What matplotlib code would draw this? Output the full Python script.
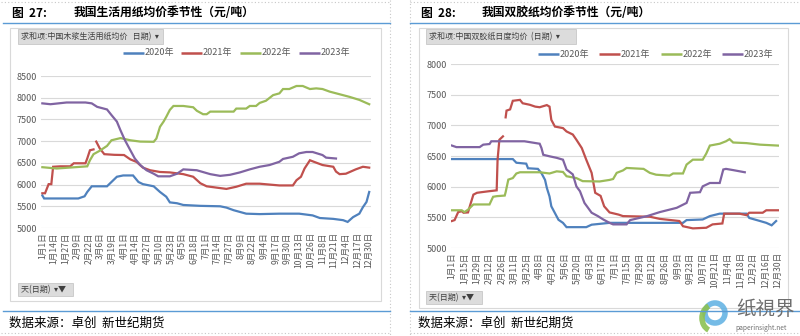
import numpy as np
import matplotlib
matplotlib.use("Agg")
import matplotlib.pyplot as plt
from matplotlib.patches import Rectangle, Circle, Arc

plt.rcParams['font.family'] = ['Noto Sans CJK SC', 'DejaVu Sans']

nan = np.nan

# ---- data: left chart (生活用纸) ----
left_ticks = ["1月1日", "1月14日", "1月27日", "2月9日", "2月22日", "3月6日", "3月19日", "4月1日",
              "4月14日", "4月27日", "5月10日", "5月23日", "6月5日", "6月18日", "7月1日", "7月14日",
              "7月27日", "8月9日", "8月22日", "9月4日", "9月17日", "9月30日", "10月13日", "10月26日",
              "11月8日", "11月21日", "12月4日", "12月17日", "12月30日"]

l2020_d = [0, 2, 40, 47, 50, 55, 72, 77, 83, 90, 101, 107, 112, 124, 131, 138, 142, 150, 157, 176, 198,
           205, 213, 227, 242, 264, 286, 301, 309, 324, 335, 340, 346, 353, 357, 361, 364]
l2020_v = [5750, 5680, 5680, 5730, 5830, 5960, 5960, 6060, 6180, 6210, 6210, 6060, 6010, 5960, 5830, 5720,
           5590, 5570, 5530, 5510, 5500, 5470, 5410, 5330, 5320, 5330, 5330, 5290, 5230, 5210, 5180, 5140,
           5250, 5330, 5480, 5600, 5830]

l2021_d = [0, 3, 7, 10, 12, 20, 31, 35, 48, 50, 53, 57, 58, 60, 64, 69, 80, 91, 98, 105, 112, 120, 131,
           142, 157, 168, 176, 183, 194, 205, 216, 227, 242, 264, 279, 283, 288, 292, 298, 303, 312, 324,
           327, 331, 338, 349, 357, 364]
l2021_v = [5800, 5800, 6010, 6010, 6410, 6420, 6420, 6490, 6490, 6600, 6790, 6810, nan, 6990, 6830, 6700,
           6685, 6680, 6580, 6520, 6390, 6330, 6290, 6280, 6240, 6180, 6030, 5960, 5930, 5900, 5950, 6020,
           6020, 5980, 5980, 6100, 6180, 6370, 6560, 6520, 6450, 6410, 6300, 6240, 6250, 6350, 6410, 6390]

l2022_d = [0, 16, 50, 53, 57, 64, 72, 77, 87, 98, 109, 124, 127, 131, 135, 138, 142, 146, 157, 168, 172,
           179, 183, 187, 213, 216, 227, 231, 238, 242, 249, 257, 264, 268, 275, 283, 290, 298, 305, 312,
           320, 331, 342, 353, 364]
l2022_v = [6400, 6370, 6420, 6560, 6700, 6780, 6890, 7020, 7070, 7020, 6990, 6985, 7060, 7330, 7450, 7560,
           7720, 7810, 7810, 7780, 7700, 7620, 7620, 7680, 7680, 7750, 7750, 7810, 7810, 7880, 7930, 8060,
           8100, 8200, 8200, 8270, 8270, 8200, 8215, 8200, 8140, 8080, 8020, 7950, 7850]

l2023_d = [0, 9, 27, 48, 55, 61, 72, 77, 83, 87, 92, 98, 103, 109, 116, 124, 129, 142, 150, 157, 172,
           187, 198, 209, 220, 231, 242, 253, 264, 268, 279, 286, 294, 301, 312, 316, 327]
l2023_v = [7870, 7850, 7890, 7890, 7870, 7790, 7730, 7600, 7450, 7250, 7020, 6790, 6600, 6450, 6330, 6250,
           6190, 6190, 6250, 6350, 6330, 6240, 6200, 6225, 6280, 6350, 6410, 6450, 6525, 6590, 6640, 6720,
           6750, 6750, 6680, 6620, 6600]

# ---- data: right chart (双胶纸) ----
right_ticks = ["1月1日", "1月15日", "1月29日", "2月12日", "2月26日", "3月11日", "3月25日", "4月8日",
               "4月22日", "5月6日", "5月20日", "6月3日", "6月17日", "7月1日", "7月15日", "7月29日",
               "8月12日", "8月26日", "9月9日", "9月23日", "10月7日", "10月21日", "11月4日", "11月18日",
               "12月2日", "12月16日", "12月30日"]

r2020_d = [0, 68, 72, 83, 85, 96, 100, 104, 106, 109, 111, 115, 119, 124, 128, 150, 156, 176, 258, 262,
           280, 288, 299, 329, 332, 344, 351, 357, 362]
r2020_v = [6450, 6450, 6390, 6375, 6300, 6290, 6220, 6110, 5980, 5840, 5680, 5570, 5460, 5410, 5340, 5340,
           5380, 5410, 5410, 5455, 5465, 5520, 5560, 5560, 5490, 5440, 5410, 5370, 5440]

r2021_d = [0, 3, 7, 11, 13, 18, 20, 24, 28, 33, 41, 50, 51, 53, 57, 58, 60, 61, 65, 68, 76, 79, 87, 93,
           98, 106, 109, 111, 115, 124, 128, 135, 139, 145, 150, 156, 160, 166, 170, 176, 186, 191, 221,
           232, 254, 258, 269, 284, 291, 302, 304, 321, 329, 332, 347, 351, 364]
r2021_v = [5440, 5455, 5585, 5600, 5575, 5580, 5680, 5870, 5900, 5910, 5925, 5940, 6440, 6765, 6820, nan,
           7130, 7240, 7260, 7400, 7415, 7360, 7335, 7305, 7295, 7330, 7305, 7090, 6980, 6955, 6900, 6850,
           6765, 6630, 6440, 6225, 5900, 5850, 5680, 5580, 5545, 5520, 5510, 5475, 5440, 5355, 5320, 5330,
           5385, 5400, 5560, 5560, 5535, 5575, 5575, 5615, 5615]

r2022_d = [0, 11, 14, 18, 24, 42, 46, 50, 59, 60, 63, 68, 72, 76, 98, 109, 117, 124, 128, 139, 146, 165,
           176, 180, 184, 191, 195, 214, 221, 228, 243, 247, 258, 262, 269, 280, 284, 288, 299, 306, 310,
           314, 329, 344, 364]
r2022_v = [5615, 5615, 5585, 5625, 5710, 5710, 5835, 5845, 5855, 5910, 6115, 6140, 6215, 6235, 6235, 6215,
           6250, 6240, 6170, 6140, 6090, 6085, 6110, 6125, 6225, 6265, 6305, 6290, 6225, 6195, 6180, 6215,
           6215, 6360, 6440, 6440, 6540, 6670, 6700, 6740, 6775, 6720, 6710, 6685, 6670]

r2023_d = [0, 5, 31, 35, 42, 44, 81, 98, 100, 102, 109, 117, 124, 128, 135, 139, 143, 148, 156, 163, 169,
           176, 180, 195, 199, 218, 232, 251, 262, 266, 277, 280, 288, 299, 303, 306, 314, 327]
r2023_v = [6670, 6645, 6645, 6685, 6695, 6740, 6740, 6700, 6630, 6520, 6495, 6470, 6440, 6280, 6200, 6005,
           5925, 5735, 5575, 5520, 5465, 5410, 5385, 5385, 5455, 5520, 5585, 5655, 5735, 5900, 5910, 6005,
           6060, 6060, 6280, 6290, 6270, 6235]

years = ["2020年", "2021年", "2022年", "2023年"]
colors = ["#4F81BD", "#C0504D", "#9BBB59", "#8064A2"]

W, H = 800, 336
fig = plt.figure(figsize=(8, 3.36), dpi=100)

# overlay in pixel coordinates for the frame decorations
bg = fig.add_axes([0, 0, 1, 1])
bg.set_xlim(0, W)
bg.set_ylim(H, 0)
bg.axis("off")

blue = "#5B9BD5"
grey_dot = "#C8C8C8"
# dotted panel borders
bg.plot([1, 390], [2, 2], ls=(0, (1, 2)), color=grey_dot, lw=0.8)
bg.plot([410, 800], [2, 2], ls=(0, (1, 2)), color=grey_dot, lw=0.8)
bg.plot([1, 390], [333, 333], ls=(0, (1, 2)), color=grey_dot, lw=0.8)
bg.plot([410, 800], [333, 333], ls=(0, (1, 2)), color=grey_dot, lw=0.8)
bg.plot([390, 390], [0, 336], ls=(0, (1, 2)), color=grey_dot, lw=0.8)
bg.plot([410, 410], [0, 336], ls=(0, (1, 2)), color=grey_dot, lw=0.8)
# blue rules
for x0, x1 in [(3, 390), (410, 800)]:
    bg.plot([x0, x1], [23, 23], color=blue, lw=1.0)
    bg.plot([x0, x1], [311, 311], color=blue, lw=1.0)
# chart boxes
bg.add_patch(Rectangle((10, 28), 371, 273, fill=False, ec="#D9D9D9", lw=0.8))
bg.add_patch(Rectangle((419, 28), 369, 280, fill=False, ec="#D9D9D9", lw=0.8))

# titles
bg.text(12, 13, "图  27:", fontsize=8.5, fontweight="bold", va="center")
bg.text(74, 13, "我国生活用纸均价季节性（元/吨）", fontsize=8.5, fontweight="bold", va="center")
bg.text(421, 13, "图  28:", fontsize=8.5, fontweight="bold", va="center")
bg.text(482, 13, "我国双胶纸均价季节性（元/吨）", fontsize=8.5, fontweight="bold", va="center")

# source
bg.text(9, 323, "数据来源：卓创  新世纪期货", fontsize=9, va="center")
bg.text(418, 323, "数据来源：卓创  新世纪期货", fontsize=9, va="center")

# pivot buttons
bg.add_patch(Rectangle((18, 29), 145, 15, fc="#DCDCDC", ec="#C0C0C0", lw=0.5))
bg.text(21, 36.5, "求和项:中国木浆生活用纸均价   日期)  ▾", fontsize=5.8, va="center", color="#404040")
bg.add_patch(Rectangle((426, 29), 150, 15, fc="#DCDCDC", ec="#C0C0C0", lw=0.5))
bg.text(429, 36.5, "求和项:中国双胶纸日度均价  (日期)  ▾", fontsize=5.8, va="center", color="#404040")
bg.add_patch(Rectangle((18, 283), 55, 13, fc="#DCDCDC", ec="#C0C0C0", lw=0.5))
bg.text(21, 289.5, "天(日期)  ▾▼", fontsize=5.8, va="center", color="#404040")
bg.add_patch(Rectangle((426, 291), 56, 13, fc="#DCDCDC", ec="#C0C0C0", lw=0.5))
bg.text(429, 297.5, "天(日期)  ▾▼", fontsize=5.8, va="center", color="#404040")

# legends
def legend(xs, y):
    for x, lab, c in zip(xs, years, colors):
        bg.plot([x, x + 21], [y, y], color=c, lw=1.8, solid_capstyle="butt")
        bg.text(x + 22, y, lab, fontsize=6.5, va="center", color="#595959")

legend([123, 181, 240, 299], 53)
legend([538, 599, 661, 722], 54)

# watermark logo
bg.add_patch(Circle((715, 313), 10, fc="none", ec="#5DB0E2", lw=4, alpha=0.85))
bg.add_patch(Arc((713, 318), 22, 26, theta1=110, theta2=250, ec="#8CC152", lw=4, alpha=0.9))
bg.text(736, 309, "纸視界", fontsize=14, color="#6E6E6E", va="center")
bg.text(735, 328, "paperinsight.net", fontsize=4.8, color="#707070", va="center")


def make_chart(rect, ylim, yticks, ticks, tick_labels, series, xlim):
    ax = fig.add_axes(rect)
    ax.set_facecolor("none")
    for (d, v), c in zip(series, colors):
        ax.plot(d, v, color=c, lw=1.6, solid_joinstyle="miter")
    ax.set_xlim(*xlim)
    ax.set_ylim(*ylim)
    ax.set_yticks(yticks)
    ax.set_yticklabels([str(t) for t in yticks], fontsize=6.5, color="#595959")
    ax.set_xticks(ticks)
    ax.set_xticklabels(tick_labels, rotation=90, fontsize=6.2, color="#595959")
    ax.grid(axis="y", color="#D9D9D9", lw=0.8)
    ax.tick_params(length=0, pad=3)
    for s in ax.spines.values():
        s.set_visible(False)
    return ax


left_series = [(l2020_d, l2020_v), (l2021_d, l2021_v), (l2022_d, l2022_v), (l2023_d, l2023_v)]
right_series = [(r2020_d, r2020_v), (r2021_d, r2021_v), (r2022_d, r2022_v), (r2023_d, r2023_v)]

make_chart([41 / W, 1 - 228 / H, 330 / W, 152 / H], (5000, 8500),
           [5000, 5500, 6000, 6500, 7000, 7500, 8000, 8500],
           [13 * i for i in range(len(left_ticks))], left_ticks, left_series, (-1.5, 366))

make_chart([451 / W, 1 - 248 / H, 328 / W, 184 / H], (5000, 8000),
           [5000, 5500, 6000, 6500, 7000, 7500, 8000],
           [14 * i for i in range(len(right_ticks))], right_ticks, right_series, (-1, 365.2))

fig.savefig("out.png", dpi=100)
